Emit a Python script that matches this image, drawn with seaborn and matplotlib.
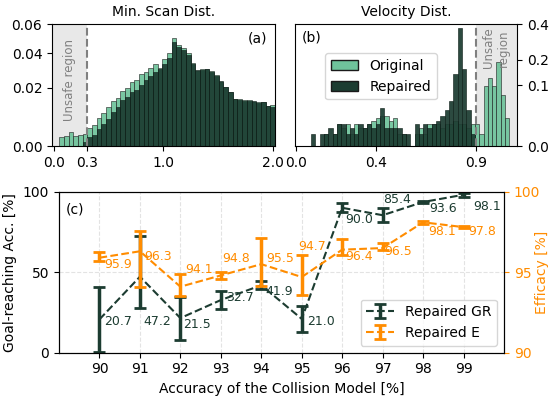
import numpy as np
import pandas as pd
import matplotlib
matplotlib.use("Agg")
import matplotlib.pyplot as plt
from matplotlib.patches import Patch
import seaborn as sns

# ---------------- data ----------------
# (a) Min. scan distance histogram (probability per bin)
scan_edges = np.linspace(0.048, 2.02, 47)
scan_original = [0.0013, 0.0014, 0.0024, 0.0015, 0.0016, 0.0020, 0.0036, 0.0043, 0.0068, 0.0086,
                 0.0112, 0.0138, 0.0152, 0.0182, 0.0196, 0.0230, 0.0240, 0.0275, 0.0288, 0.0310,
                 0.0330, 0.0310, 0.0360, 0.0400, 0.0500, 0.0453, 0.0433, 0.0400, 0.0336, 0.0292,
                 0.0300, 0.0302, 0.0290, 0.0268, 0.0232, 0.0205, 0.0178, 0.0143, 0.0147, 0.0140,
                 0.0142, 0.0132, 0.0132, 0.0133, 0.0113, 0.0117]
scan_repaired = [0.0, 0.0, 0.0, 0.0, 0.0, 0.0004, 0.0012, 0.0016, 0.0033, 0.0048,
                 0.0065, 0.0090, 0.0111, 0.0140, 0.0155, 0.0178, 0.0190, 0.0215, 0.0240, 0.0265,
                 0.0285, 0.0300, 0.0330, 0.0370, 0.0470, 0.0440, 0.0420, 0.0390, 0.0330, 0.0295,
                 0.0295, 0.0300, 0.0285, 0.0265, 0.0235, 0.0205, 0.0180, 0.0145, 0.0142, 0.0138,
                 0.0138, 0.0135, 0.0128, 0.0130, 0.0115, 0.0112]

# (b) Velocity histogram (probability per bin)
vel_edges = np.linspace(0.075, 1.067, 47)
vel_original = [0.0, 0.0, 0.0, 0.0042, 0.0, 0.0042, 0.0125, 0.0083, 0.0125, 0.0042,
                0.0125, 0.0083, 0.0083, 0.0125, 0.0167, 0.0208, 0.025, 0.025, 0.0167, 0.0208,
                0.0042, 0.0042, 0.0, 0.0, 0.0042, 0.0083, 0.0042, 0.0125, 0.0125, 0.0125,
                0.0083, 0.0125, 0.0125, 0.0167, 0.0125, 0.0125, 0.0083, 0.0125, 0.0125, 0.0042,
                0.097, 0.126, 0.097, 0.188, 0.071, 0.021]
vel_repaired = [0.0042, 0.0, 0.0042, 0.0042, 0.0083, 0.0042, 0.0125, 0.0125, 0.0042, 0.0083,
                0.0042, 0.0125, 0.0083, 0.0125, 0.0083, 0.0125, 0.0387, 0.0083, 0.0083, 0.0083,
                0.0083, 0.0042, 0.0042, 0.0, 0.0125, 0.0042, 0.0125, 0.0083, 0.0125, 0.0167,
                0.025, 0.034, 0.055, 0.138, 0.372, 0.16, 0.034, 0.0042, 0.0, 0.0,
                0.0, 0.0, 0.0, 0.0, 0.0, 0.0]

# (c) repaired results vs. collision model accuracy
accuracy = [90, 91, 92, 93, 94, 95, 96, 97, 98, 99]
gr_mean = [20.7, 47.2, 21.5, 32.7, 41.9, 21.0, 90.0, 85.4, 93.6, 98.1]
gr_err_lo = [20.3, 19.6, 13.4, 5.8, 2.5, 8.1, 2.8, 4.0, 0.8, 1.2]
gr_err_hi = [20.3, 25.5, 13.0, 5.8, 2.5, 8.2, 2.8, 4.3, 0.8, 1.0]
ef_mean = [95.9, 96.3, 94.1, 94.8, 95.5, 94.7, 96.4, 96.5, 98.1, 97.8]
ef_err_lo = [0.2, 2.2, 0.56, 0.2, 1.36, 1.12, 0.33, 0.15, 0.1, 0.08]
ef_err_hi = [0.34, 1.26, 0.79, 0.2, 1.64, 1.37, 0.66, 0.3, 0.1, 0.08]

# label offsets (pixels) for annotations
gr_lab_off = [(5, -2), (3, -45), (3, -6), (5, 3), (4, -6), (5, -3), (3, -12), (0, 16), (6, -6), (10, -12)]
ef_lab_off = [(5, -7), (4, -5), (5, 17), (1, 17), (5, 6), (-3, 31), (3, -7), (2, -3), (5, -9), (5, -4)]

# ---------------- style ----------------
C_LIGHT = "#6fc39b"
C_DARK = "#1c3c31"
C_ORANGE = "#ff8c00"
plt.rcParams["font.family"] = ["DejaVu Sans"]
plt.rcParams["font.size"] = 10

fig = plt.figure(figsize=(5.51, 4.03), dpi=100)
ax_a = fig.add_axes([0.0944, 0.6377, 0.4046, 0.3027])
ax_b = fig.add_axes([0.5354, 0.6377, 0.4029, 0.3027])
ax_c = fig.add_axes([0.1071, 0.1248, 0.8076, 0.3995])


def power_scale(p):
    f = lambda v: np.sign(v) * np.abs(v) ** p
    g = lambda v: np.sign(v) * np.abs(v) ** (1.0 / p)
    return (f, g)


def hist(ax, edges, values, color, edgecolor):
    edges = list(edges)
    centers = [(edges[i] + edges[i + 1]) / 2 for i in range(len(edges) - 1)]
    df = pd.DataFrame({"x": centers, "w": values})
    sns.histplot(data=df, x="x", weights="w", bins=edges, ax=ax,
                 color=color, alpha=0.93, edgecolor=edgecolor, linewidth=0.4)


# ---------------- (a) ----------------
ax_a.axvspan(-0.018, 0.3, color="lightgray", alpha=0.5, lw=0, zorder=0)
hist(ax_a, scan_edges, scan_original, C_LIGHT, "#1a1a1a")
hist(ax_a, scan_edges, scan_repaired, C_DARK, "#0a1a14")
ax_a.axvline(0.3, color="gray", ls="--", lw=1.5)
ax_a.set_yscale("function", functions=power_scale(0.672))
ax_a.set_ylim(0, 0.06)
ax_a.set_xlim(-0.018, 2.02)
ax_a.set_xticks([0.0, 0.3, 1.0, 2.0])
ax_a.set_xticklabels(["0.0", "0.3", "1.0", "2.0"])
ax_a.set_yticks([0.0, 0.02, 0.04, 0.06])
ax_a.set_yticklabels(["0.00", "0.02", "0.04", "0.06"])
ax_a.set_ylabel("")
ax_a.set_xlabel("")
ax_a.set_title("Min. Scan Dist.", fontsize=10)
ax_a.text(0.14, 0.54, "Unsafe region", rotation=90, color="gray", fontsize=8.5,
          ha="center", va="center", transform=ax_a.get_xaxis_transform())
ax_a.text(0.965, 0.94, "(a)", ha="right", va="top", transform=ax_a.transAxes)

# ---------------- (b) ----------------
ax_b.axvspan(0.9, 1.105, color="lightgray", alpha=0.5, lw=0, zorder=0)
hist(ax_b, vel_edges, vel_original, C_LIGHT, "#1a1a1a")
hist(ax_b, vel_edges, vel_repaired, C_DARK, "#0a1a14")
ax_b.axvline(0.9, color="gray", ls="--", lw=1.5)
ax_b.set_yscale("function", functions=power_scale(0.5))
ax_b.set_ylim(0, 0.4)
ax_b.set_xlim(-0.005, 1.105)
ax_b.set_xticks([0.0, 0.4, 0.9])
ax_b.set_xticklabels(["0.0", "0.4", "0.9"])
ax_b.yaxis.tick_right()
ax_b.set_yticks([0.0, 0.1, 0.2, 0.4])
ax_b.set_yticklabels(["0.0", "0.1", "0.2", "0.4"])
ax_b.set_ylabel("")
ax_b.set_xlabel("")
ax_b.set_title("Velocity Dist.", fontsize=10)
ax_b.text(1.0, 0.97, "Unsafe\nregion", rotation=90, color="gray", fontsize=8.5,
          ha="center", va="top", multialignment="center",
          transform=ax_b.get_xaxis_transform())
ax_b.text(0.03, 0.95, "(b)", ha="left", va="top", transform=ax_b.transAxes)
handles_b = [Patch(facecolor=C_LIGHT, edgecolor="#1a1a1a", label="Original"),
             Patch(facecolor=C_DARK, edgecolor="#1a1a1a", label="Repaired")]
ax_b.legend(handles=handles_b, loc="upper left", bbox_to_anchor=(0.135, 0.76),
            borderaxespad=0, fontsize=10)

# ---------------- (c) ----------------
ax_c.errorbar(accuracy, gr_mean, yerr=[gr_err_lo, gr_err_hi], fmt="--", color=C_DARK,
              lw=1.5, elinewidth=2.5, capsize=4, capthick=2, label="Repaired GR")
ax_c.set_ylim(0, 100)
ax_c.set_xlim(89, 100)
ax_c.set_xticks(accuracy)
ax_c.set_yticks([0, 50, 100])
ax_c.grid(True, ls="--", alpha=0.35)
ax_c.set_xlabel("Accuracy of the Collision Model [%]")
ax_c.set_ylabel("Goal-reaching Acc. [%]")
for xv, yv, (dx, dy) in zip(accuracy, gr_mean, gr_lab_off):
    ax_c.annotate(f"{yv:.1f}", (xv, yv), xytext=(dx, dy), textcoords="offset pixels",
                  ha="left", va="center", color=C_DARK, fontsize=9)
ax_c.text(0.015, 0.93, "(c)", ha="left", va="top", transform=ax_c.transAxes)

ax_c2 = ax_c.twinx()
ax_c2.errorbar(accuracy, ef_mean, yerr=[ef_err_lo, ef_err_hi], fmt="--", color=C_ORANGE,
               lw=1.5, elinewidth=2.5, capsize=4, capthick=2, label="Repaired E")
ax_c2.set_ylim(90, 100)
ax_c2.set_yticks([90, 95, 100])
ax_c2.tick_params(axis="y", colors=C_ORANGE)
ax_c2.set_ylabel("Efficacy [%]", color=C_ORANGE, labelpad=-4)
for xv, yv, (dx, dy) in zip(accuracy, ef_mean, ef_lab_off):
    ax_c2.annotate(f"{yv:.1f}", (xv, yv), xytext=(dx, dy), textcoords="offset pixels",
                   ha="left", va="center", color=C_ORANGE, fontsize=9)
h1, l1 = ax_c.get_legend_handles_labels()
h2, l2 = ax_c2.get_legend_handles_labels()
ax_c2.legend(h1 + h2, l1 + l2, loc="lower right", fontsize=10)

fig.savefig("out.png", dpi=100)
